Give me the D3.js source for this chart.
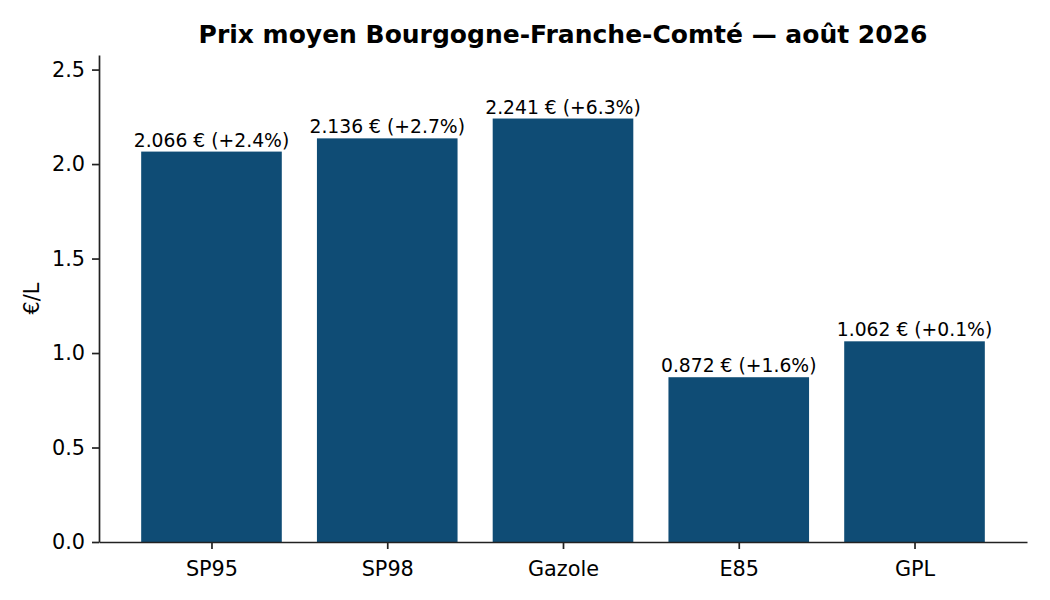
<!DOCTYPE html>
<html>
<head>
<meta charset="utf-8">
<script src="https://cdn.jsdelivr.net/npm/d3@7"></script>
<style>
  body { margin: 0; background: #fff; }
  svg text { font-family: "DejaVu Sans", sans-serif; fill: #000; }
</style>
</head>
<body>
<svg id="chart" width="1050" height="600"></svg>
<script>
// data
var categories = ["SP95", "SP98", "Gazole", "E85", "GPL"];
var prices = [2.066, 2.136, 2.241, 0.872, 1.062];
var changes = [2.4, 2.7, 6.3, 1.6, 0.1];
var yTicks = [0.0, 0.5, 1.0, 1.5, 2.0, 2.5];

var svg = d3.select("svg#chart");

var margin = { top: 55, right: 23, bottom: 58, left: 99 };
var width = 1050 - margin.left - margin.right;
var height = 600 - margin.top - margin.bottom;

var plot = svg.append("g")
    .attr("transform", "translate(" + margin.left + "," + margin.top + ")");

// matplotlib-like limits: 5% margin on x, max*1.15 on y
var xScale = d3.scaleLinear()
    .domain([-0.64, categories.length - 1 + 0.64])
    .range([0, width]);

var yScale = d3.scaleLinear()
    .domain([0, d3.max(prices) * 1.15])
    .range([height, 0]);

var barWidth = xScale(0.8) - xScale(0);

plot.selectAll("rect.bar")
    .data(prices)
    .enter().append("rect")
    .attr("class", "bar")
    .attr("x", function(d, i) { return xScale(i) - barWidth / 2; })
    .attr("y", function(d) { return yScale(d); })
    .attr("width", barWidth)
    .attr("height", function(d) { return height - yScale(d); })
    .style("fill", "#0f4c75");

// value labels
plot.selectAll("text.val")
    .data(prices)
    .enter().append("text")
    .attr("class", "val")
    .attr("x", function(d, i) { return xScale(i); })
    .attr("y", function(d) { return yScale(d) - 5; })
    .style("text-anchor", "middle")
    .style("font-size", "18.75px")
    .text(function(d, i) {
        return d.toFixed(3) + " € (+" + changes[i].toFixed(1) + "%)";
    });

// axes
var xAxis = d3.axisBottom(xScale)
    .tickValues(d3.range(categories.length))
    .tickFormat(function(i) { return categories[i]; })
    .tickSize(7)
    .tickSizeOuter(0)
    .tickPadding(7);

var yAxis = d3.axisLeft(yScale)
    .tickValues(yTicks)
    .tickFormat(d3.format(".1f"))
    .tickSize(7)
    .tickSizeOuter(0)
    .tickPadding(7);

var xGroup = plot.append("g")
    .attr("transform", "translate(0," + height + ")")
    .call(xAxis);

var yGroup = plot.append("g").call(yAxis);

[xGroup, yGroup].forEach(function(g) {
    g.selectAll("path.domain").attr("stroke", "#222").attr("stroke-width", 1.7);
    g.selectAll(".tick line").attr("stroke", "#222").attr("stroke-width", 1.7);
    g.selectAll(".tick text")
        .style("font-size", "20.8px")
        .style("font-family", "'DejaVu Sans', sans-serif")
        .attr("fill", "#000");
});
xGroup.selectAll(".tick text").attr("dy", "0.95em");

// title
svg.append("text")
    .attr("x", margin.left + width / 2)
    .attr("y", 43)
    .style("text-anchor", "middle")
    .style("font-size", "25px")
    .style("font-weight", "bold")
    .text("Prix moyen Bourgogne-Franche-Comté — août 2026");

// y axis title
svg.append("text")
    .attr("transform", "translate(39," + (margin.top + height / 2) + ") rotate(-90)")
    .style("text-anchor", "middle")
    .style("font-size", "20.8px")
    .text("€/L");
</script>
</body>
</html>
